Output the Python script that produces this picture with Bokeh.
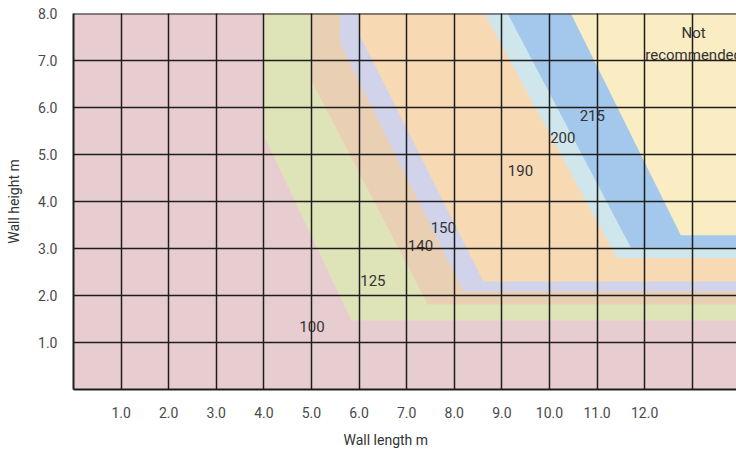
from bokeh.plotting import figure
from bokeh.models import Range1d, FixedTicker, ColumnDataSource, Span, Title, CustomJSTickFormatter
from bokeh.core.properties import value
from bokeh.embed import file_html
from bokeh.resources import INLINE

# ---- data ----
zone_labels = ["100", "125", "140", "150", "190", "200", "215"]
zone_colors = ["#e8cdd0", "#dfe4b8", "#e9d0b4", "#d0d3e9", "#f7d9b4", "#cfe6ec", "#a3c8ec", "#fbedc3"]
# boundary of each zone (zones 125 .. not recommended): top x at height 8, knee height, lower corner
top_x    = [4.00, 5.00, 5.60, 6.00, 8.64, 9.12, 10.45]
knee_y   = [5.40, 6.57, 7.37, 7.57, 8.00, 8.00, 8.00]
corner_x = [5.84, 7.44, 8.19, 8.61, 11.41, 11.71, 12.76]
corner_y = [1.47, 1.81, 2.09, 2.30, 2.80, 3.02, 3.28]

label_x = [5.01, 6.29, 7.29, 7.77, 9.39, 10.28, 10.90]
label_y = [1.34, 2.32, 3.07, 3.45, 4.66, 5.36, 5.83]
nr_lines = ["Not", "recommended"]
nr_x = [13.03, 13.03]
nr_y = [7.58, 7.12]

x_ticks = [1, 2, 3, 4, 5, 6, 7, 8, 9, 10, 11, 12]
x_grid = [1, 2, 3, 4, 5, 6, 7, 8, 9, 10, 11, 12, 13]
y_ticks = [1, 2, 3, 4, 5, 6, 7, 8]
y_grid = [1, 2, 3, 4, 5, 6, 7]
x_max = 14.0
y_max = 8.0

FONT = "Roboto"

p = figure(width=736, height=458, output_backend="svg", toolbar_location=None,
           x_range=Range1d(0, 13.93), y_range=Range1d(0, 8),
           min_border_left=73, min_border_right=0, min_border_top=13, min_border_bottom=69)
p.background_fill_color = zone_colors[0]
p.border_fill_color = "white"
p.outline_line_color = None

# zones
xs, ys = [], []
for tx, ky, cx, cy in zip(top_x, knee_y, corner_x, corner_y):
    xs.append([tx, tx, cx, x_max, x_max])
    ys.append([y_max, ky, cy, cy, y_max])
src = ColumnDataSource(dict(xs=xs, ys=ys, color=zone_colors[1:]))
p.patches("xs", "ys", source=src, fill_color="color", line_color=None)

# grid
p.xgrid.ticker = FixedTicker(ticks=x_grid)
p.ygrid.ticker = FixedTicker(ticks=y_grid)
p.grid.grid_line_color = "#1e1e1e"
p.grid.grid_line_width = 1.5
p.grid.level = "overlay"

# labels
p.text(label_x, label_y, text=zone_labels, text_font=value(FONT), text_font_size="15px",
       text_color="#333333", text_align="center", text_baseline="middle")
p.text(nr_x, nr_y, text=nr_lines, text_font=value(FONT), text_font_size="15px",
       text_color="#333333", text_align="center", text_baseline="middle")

# top border
p.add_layout(Span(location=8, dimension="width", line_color="#1e1e1e", line_width=2))

# axes
p.xaxis.ticker = FixedTicker(ticks=x_ticks)
p.yaxis.ticker = FixedTicker(ticks=y_ticks)
for ax in (p.xaxis, p.yaxis):
    ax.major_tick_line_color = None
    ax.minor_tick_line_color = None
    ax.major_tick_out = 0
    ax.minor_tick_out = 0
    ax.axis_line_color = "#1e1e1e"
    ax.axis_line_width = 2
    ax.major_label_text_font = FONT
    ax.major_label_text_font_size = "14px"
    ax.major_label_text_color = "#4a4a4a"
    ax.axis_label_text_font = FONT
    ax.axis_label_text_font_size = "14px"
    ax.axis_label_text_font_style = "normal"
    ax.axis_label_text_color = "#333333"
p.xaxis.formatter = CustomJSTickFormatter(code="return tick.toFixed(1);")
p.yaxis.formatter = CustomJSTickFormatter(code="return tick.toFixed(1);")
p.yaxis.axis_label = "Wall height m"
p.xaxis.major_label_standoff = 17
p.yaxis.major_label_standoff = 16
p.yaxis.axis_label_standoff = 13

# x axis title, placed as in the reference (left of the frame centre)
p.add_layout(Title(text="Wall length m", align="left", offset=270, standoff=19,
                   text_font=FONT, text_font_size="14px", text_font_style="normal",
                   text_color="#333333"), "below")

open("out.html", "w").write(file_html(p, INLINE))
